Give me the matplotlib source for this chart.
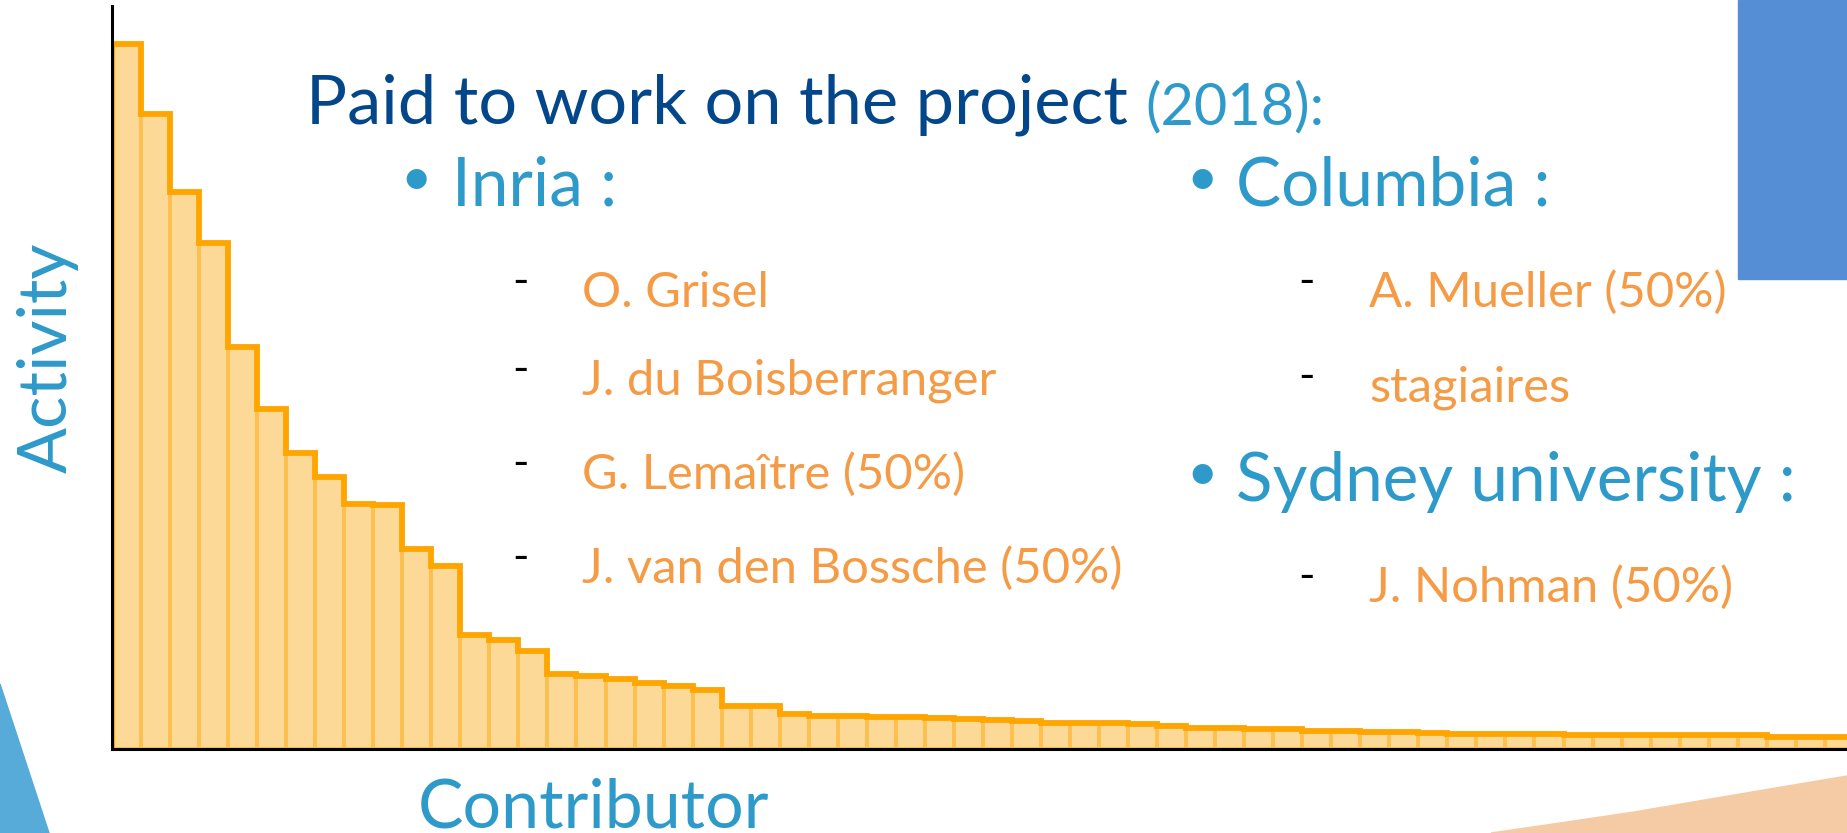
import matplotlib
matplotlib.use("Agg")
import matplotlib.pyplot as plt
from matplotlib.patches import Polygon, Rectangle
import numpy as np

# activity per contributor, sorted
activity = [705, 635, 557, 506, 402, 340, 296, 272, 245, 244,
            200, 183, 114, 109, 98, 75, 73, 70, 66, 63,
            59, 43, 43, 35, 33, 33, 32, 32, 31, 30,
            29, 28, 26, 26, 26, 25, 23, 21, 21, 20,
            20, 18, 18, 17, 17, 16, 15, 15, 15, 15,
            14, 14, 14, 14, 14, 14, 14, 12.5, 12.5, 12.5]

title = "Paid to work on the project"
year = "(2018):"
left_group = "Inria :"
left_people = ["O. Grisel", "J. du Boisberranger", "G. Lemaître (50%)",
               "J. van den Bossche (50%)"]
right_groups = ["Columbia :", "Sydney university :"]
columbia_people = ["A. Mueller (50%)", "stagiaires"]
sydney_people = ["J. Nohman (50%)"]

W, H = 1847, 833
DARK_BLUE = "#03468a"
BLUE = "#2e9aca"
ORANGE = "#f59b45"


def fx(x):
    return x / W


def fy(y):
    return 1 - y / H


fig = plt.figure(figsize=(W / 100, H / 100), dpi=100)
fig.patch.set_facecolor("white")

# chart area: left edge at x=112, baseline at y=749, top at y=6
ax = fig.add_axes([fx(112), fy(749), 1 - fx(112), fy(6) - fy(749)])
ax.patch.set_alpha(0)

n = len(activity)
edges = np.arange(n + 1)
ax.bar(edges[:-1], activity, width=1, align="edge", color="#fdd998",
       edgecolor="#fdbf4e", linewidth=2.8, zorder=2)
ax.stairs(activity, edges, baseline=0, color="#ffa500", linewidth=4.2, zorder=3)

ax.set_xlim(0, (W - 112) / 29.03)
ax.set_ylim(0, 743)
ax.set_xticks([])
ax.set_yticks([])
for side in ["top", "right"]:
    ax.spines[side].set_visible(False)
for side in ["left", "bottom"]:
    ax.spines[side].set_linewidth(2.2)
    ax.spines[side].set_color("black")
    ax.spines[side].set_zorder(5)

font = "Lato"

fig.text(fx(67), fy(358), "Activity", rotation=90, rotation_mode="anchor",
         ha="center", va="baseline", fontsize=49, color=BLUE, family=font)
fig.text(fx(418), fy(827), "Contributor", ha="left", va="baseline",
         fontsize=49, color=BLUE, family=font)

fig.text(fx(306), fy(124), title, ha="left", va="baseline", fontsize=49.3,
         color=DARK_BLUE, family=font)
fig.text(fx(1145), fy(124), year, ha="left", va="baseline", fontsize=41.5,
         color=BLUE, family=font)


def group(xb, xt, yb, label):
    fig.text(fx(xb), fy(yb - 11), "\u2022", ha="left", va="baseline", fontsize=39,
             color=BLUE, family=font)
    fig.text(fx(xt), fy(yb), label, ha="left", va="baseline", fontsize=48.6,
             color=BLUE, family=font)


def item(xd, xt, yb, label):
    fig.text(fx(xd), fy(yb - 12), "-", ha="left", va="baseline", fontsize=32,
             color="black", family=font)
    fig.text(fx(xt), fy(yb), label, ha="left", va="baseline", fontsize=35.3,
             color=ORANGE, family=font)


group(400, 452, 206, left_group)
for name, yb in zip(left_people, [307, 395, 489, 583]):
    item(512, 582, yb, name)

group(1186, 1236, 206, right_groups[0])
for name, yb in zip(columbia_people, [307, 402]):
    item(1298, 1369, yb, name)
group(1186, 1236, 501, right_groups[1])
for name, yb in zip(sydney_people, [602]):
    item(1298, 1369, yb, name)

# slide decorations
tri = Polygon([(fx(0), fy(684)), (fx(49), fy(833)), (fx(0), fy(833))],
              closed=True, transform=fig.transFigure, color="#56abd8", zorder=1)
fig.add_artist(tri)
peach = Polygon([(fx(1491), fy(833)), (fx(1560), fy(823)), (fx(1634), fy(812)),
                 (fx(1740), fy(794)), (fx(1847), fy(776)), (fx(1847), fy(833))],
                closed=True, transform=fig.transFigure, color="#f5cba6", zorder=1)
fig.add_artist(peach)
rect = Rectangle((fx(1738), fy(279)), 1 - fx(1738), fy(0) - fy(279),
                 transform=fig.transFigure, color="#558ed5", zorder=1)
fig.add_artist(rect)

fig.savefig("out.png", dpi=100)
